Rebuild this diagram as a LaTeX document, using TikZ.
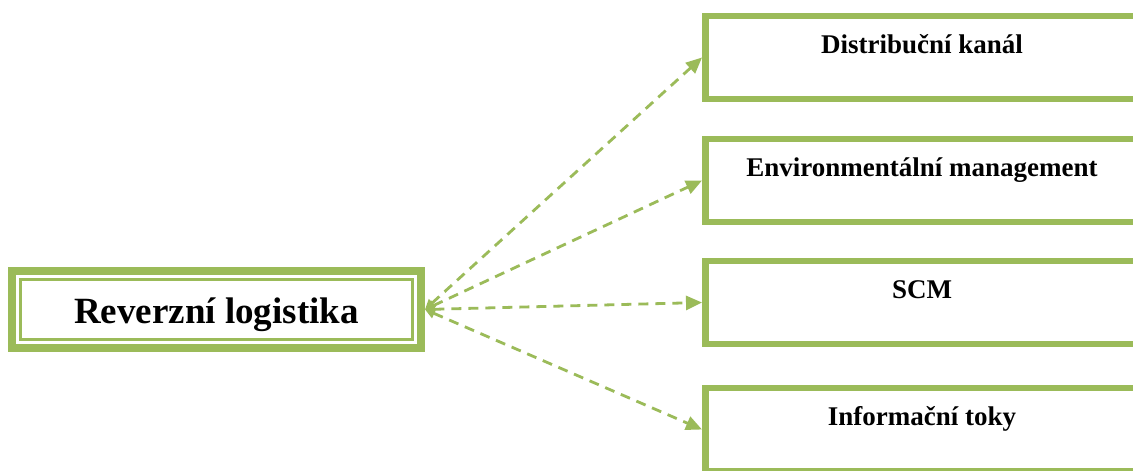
\documentclass[tikz,border=0pt]{standalone}
\usepackage{fontspec}
\setmainfont{Liberation Serif}
\usetikzlibrary{arrows.meta}
\definecolor{zelena}{HTML}{9BBB59}
\tikzstyle{arrow} = [draw=zelena, line width=2.8pt, dash pattern=on 10pt off 7pt, {Triangle[length=10pt,width=10pt]}-{Triangle[length=16pt,width=14pt]}]
\tikzstyle{box}=[draw=zelena, line width=6.5pt, inner sep=0pt, minimum width=433.5pt, text height=37pt, text depth=46pt, font=\fontsize{27}{30}\selectfont\bfseries]
\tikzstyle{mainbox}=[draw=zelena, line width=8pt, inner sep=0pt, minimum width=409pt, text height=52pt, text depth=25pt, font=\fontsize{37}{40}\selectfont\bfseries,
  path picture={\draw[zelena, line width=2.5pt] ([shift={(8.5pt,-8.5pt)}]path picture bounding box.north west) rectangle ([shift={(-8.5pt,8.5pt)}]path picture bounding box.south east);}]

\begin{document}
\begin{tikzpicture}[x=1pt, y=-1pt]
    \useasboundingbox (0,0) rectangle (1133,471);
    \node (rl)  [mainbox] at (216.5,309.5)                 {Reverzní logistika};
    \node (dk)  [box] at (922,57.5)                         {Distribuční kanál};
    \node (em)  [box, node distance=123pt, below of=dk]     {Environmentální management};
    \node (scm) [box, node distance=122pt, below of=em]     {SCM};
    \node (it)  [box, node distance=127pt, below of=scm]    {Informační toky};
    \draw [arrow] (rl.east) -- (dk.west);
    \draw [arrow] (rl.east) -- (em.west);
    \draw [arrow] (rl.east) -- (scm.west);
    \draw [arrow] (rl.east) -- (it.west);
\end{tikzpicture}
\end{document}
